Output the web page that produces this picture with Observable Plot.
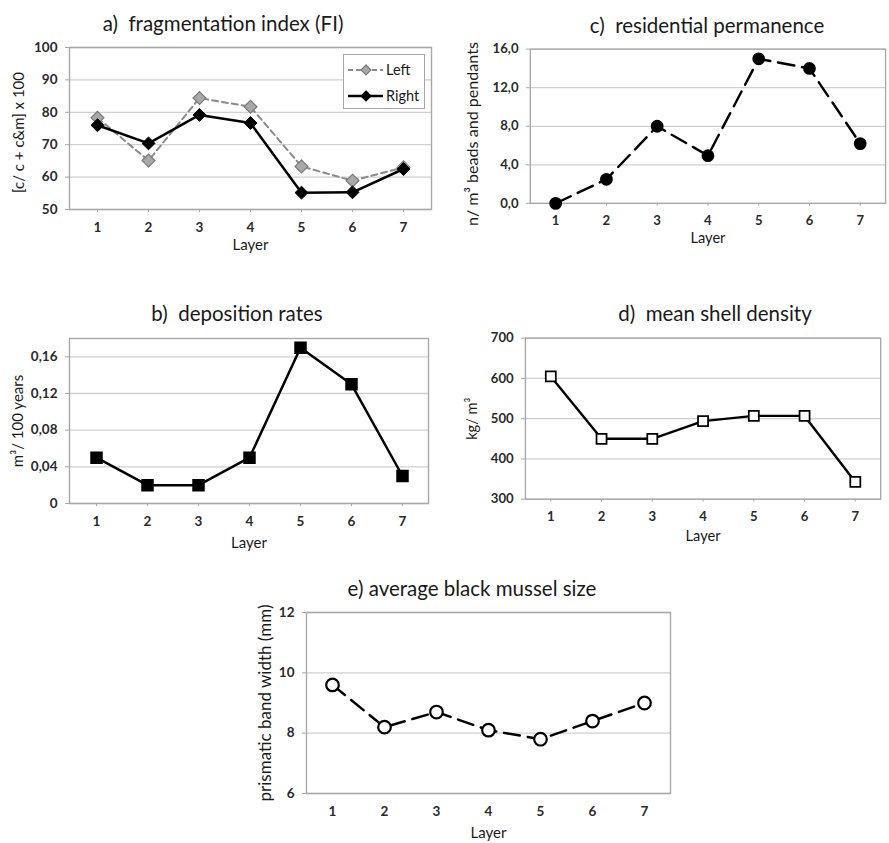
<!DOCTYPE html>
<html><head><meta charset="utf-8">
<script src="https://cdn.jsdelivr.net/npm/d3@7"></script>
<script src="https://cdn.jsdelivr.net/npm/@observablehq/plot@0.6"></script>
<style>
html,body{margin:0;padding:0;background:#fff;overflow:hidden;}
#root{position:relative;width:889px;height:843px;overflow:hidden;font-family:Lato,"Open Sans",sans-serif;}
.title{position:absolute;white-space:pre;font-size:20.5px;color:#1a1a1a;transform:translate(-50%,-50%);line-height:1;}
.panel{position:absolute;}
.panel svg g[aria-label$="tick label"], .panel svg g[aria-label$="tick label"] text{font-weight:700;font-size:13.5px;}
.legend{position:absolute;background:#fff;border:1px solid #a6a6a6;box-sizing:border-box;}
.legend .row{position:absolute;left:3px;display:flex;align-items:center;font-size:14.5px;color:#1a1a1a;}
</style></head><body><div id="root"></div>
<script>
// ---- data ----
const layers = [1, 2, 3, 4, 5, 6, 7];
const fiLeft = [78.3, 65.1, 84.4, 81.7, 63.3, 58.9, 63.0];
const fiRight = [76.0, 70.4, 79.2, 76.7, 55.2, 55.3, 62.5];
const fiTicks = [50, 60, 70, 80, 90, 100];
const depositionRates = [0.05, 0.02, 0.02, 0.05, 0.17, 0.13, 0.03];
const depTicks = [0, 0.04, 0.08, 0.12, 0.16];
const residential = [0, 2.5, 8.0, 4.95, 15.0, 14.0, 6.2];
const resTicks = [0, 4, 8, 12, 16];
const shellDensity = [605, 450, 450, 494, 507, 507, 343];
const densTicks = [300, 400, 500, 600, 700];
const musselSize = [9.6, 8.2, 8.7, 8.1, 7.8, 8.4, 9.0];
const musselTicks = [6, 8, 10, 12];

const root = document.getElementById("root");
const FONT = "Lato, 'Open Sans', sans-serif";

function addTitle(text, cx, cy) {
  const d = document.createElement("div");
  d.className = "title";
  d.textContent = text;
  d.style.left = cx + "px";
  d.style.top = cy + "px";
  root.appendChild(d);
}

function panel(o) {
  const xts = o.xTickSize ?? 3;
  const svg = Plot.plot({
    width: o.width, height: o.height,
    marginLeft: o.mL, marginRight: o.mR, marginTop: o.mT, marginBottom: o.mB,
    style: {fontFamily: FONT, fontSize: "13.5px", background: "transparent", color: "#222"},
    x: {type: "point", domain: layers, padding: 0.5},
    y: {domain: o.yDomain},
    marks: [
      Plot.gridY(o.yTicks, {stroke: "#d0d0d0", strokeOpacity: 1, strokeWidth: 1.3}),
      Plot.frame({stroke: "#a8a8a8", strokeWidth: 1.4}),
      Plot.axisX(layers, {tickSize: xts, tickPadding: 10 + (3 - xts), stroke: "#a8a8a8", fill: "#2a2a2a", fontWeight: "bold", fontSize: 13.5, label: null}),
      Plot.axisY(o.yTicks, {tickSize: 4, tickPadding: 8, stroke: "#a8a8a8", fill: "#2a2a2a", fontWeight: "bold", fontSize: 13.5, tickFormat: o.yFormat, label: null}),
      Plot.text([o.yLabel], {text: d => d, frameAnchor: "left", textAnchor: "middle", rotate: -90, dx: o.yLabelDx, dy: o.yLabelDy ?? 0, fontSize: o.yLabelSize ?? 15, fill: "#1a1a1a"}),
      Plot.text(["Layer"], {text: d => d, frameAnchor: "bottom", textAnchor: "middle", dy: o.xLabelDy, fontSize: 15, fill: "#1a1a1a"}),
      ...o.marks
    ]
  });
  const wrap = document.createElement("div");
  wrap.className = "panel";
  wrap.style.left = o.left + "px";
  wrap.style.top = o.top + "px";
  wrap.appendChild(svg);
  root.appendChild(wrap);
}

const comma = (k) => (d) => d === 0 && k === 2 ? "0" : d.toFixed(k).replace(".", ",");

// a) fragmentation index
const fiData = layers.map((l, i) => ({layer: l, left: fiLeft[i], right: fiRight[i]}));
addTitle("a)  fragmentation index (FI)", 223, 23);
panel({
  left: 0, top: 35, width: 440, height: 235, mL: 69, mR: 9, mT: 12, mB: 61,
  yDomain: [50, 100], yTicks: fiTicks, yFormat: d => String(d),
  yLabel: "[c/ c + c&m] x 100", yLabelDx: -50, yLabelDy: 4, xLabelDy: 40,
  marks: [
    Plot.line(fiData, {x: "layer", y: "left", stroke: "#8a8a8a", strokeWidth: 2, strokeDasharray: "6,4"}),
    Plot.dot(fiData, {x: "layer", y: "left", symbol: "diamond2", r: 5.8, fill: "#a8a8a8", stroke: "#7a7a7a", strokeWidth: 1.2}),
    Plot.line(fiData, {x: "layer", y: "right", stroke: "#000", strokeWidth: 2.5}),
    Plot.dot(fiData, {x: "layer", y: "right", symbol: "diamond2", r: 5.8, fill: "#000", stroke: "#000", strokeWidth: 1})
  ]
});
// legend for a)
(function () {
  const lg = document.createElement("div");
  lg.className = "legend";
  lg.style.left = "343px"; lg.style.top = "54px"; lg.style.width = "82px"; lg.style.height = "55px";
  const rows = [
    {name: "Left", stroke: "#8a8a8a", dash: "5,3", fill: "#a8a8a8", mstroke: "#7a7a7a", w: 2, top: 6},
    {name: "Right", stroke: "#000", dash: null, fill: "#000", mstroke: "#000", w: 2.5, top: 32}
  ];
  for (const r of rows) {
    const row = document.createElement("div");
    row.className = "row";
    row.style.top = r.top + "px";
    row.innerHTML = `<svg width="37" height="16" style="margin-right:2px"><line x1="1" y1="8" x2="36" y2="8" stroke="${r.stroke}" stroke-width="${r.w}" ${r.dash ? `stroke-dasharray="${r.dash}"` : ""}/><polygon points="19,3 24,8 19,13 14,8" fill="${r.fill}" stroke="${r.mstroke}" stroke-width="1.2"/></svg><span>${r.name}</span>`;
    lg.appendChild(row);
  }
  root.appendChild(lg);
})();

// c) residential permanence
const resData = layers.map((l, i) => ({layer: l, value: residential[i]}));
addTitle("c)  residential permanence", 707, 25);
panel({
  left: 440, top: 35, width: 460, height: 235, mL: 92, mR: 4, mT: 14, mB: 63,
  yDomain: [0, 16], yTicks: resTicks, yFormat: comma(1),
  yLabel: "n/ m³ beads and pendants", yLabelDx: -59, yLabelDy: 8, yLabelSize: 16.5, xLabelDy: 41,
  marks: [
    Plot.line(resData, {x: "layer", y: "value", stroke: "#000", strokeWidth: 2.5, strokeDasharray: "17,8"}),
    Plot.dot(resData, {x: "layer", y: "value", r: 5.8, fill: "#000", stroke: "#000"})
  ]
});

// b) deposition rates
const depData = layers.map((l, i) => ({layer: l, value: depositionRates[i]}));
addTitle("b)  deposition rates", 237, 313);
panel({
  left: 0, top: 325, width: 440, height: 240, mL: 69, mR: 12, mT: 13, mB: 62,
  yDomain: [0, 0.18], yTicks: depTicks, yFormat: comma(2),
  yLabel: "m³/ 100 years", yLabelDx: -51, xLabelDy: 44,
  marks: [
    Plot.line(depData, {x: "layer", y: "value", stroke: "#000", strokeWidth: 2.5}),
    Plot.dot(depData, {x: "layer", y: "value", symbol: "square", r: 6.2, fill: "#000", stroke: "#000"})
  ]
});

// d) mean shell density
const densData = layers.map((l, i) => ({layer: l, value: shellDensity[i]}));
addTitle("d)  mean shell density", 715, 313);
panel({
  left: 440, top: 325, width: 460, height: 240, mL: 87, mR: 9, mT: 13, mB: 62,
  yDomain: [300, 700], yTicks: densTicks, yFormat: d => String(d),
  yLabel: "kg/ m³", yLabelDx: -54, xLabelDy: 43,
  marks: [
    Plot.line(densData, {x: "layer", y: "value", stroke: "#000", strokeWidth: 2.5}),
    Plot.dot(densData, {x: "layer", y: "value", symbol: "square", r: 5.8, fill: "#fff", stroke: "#000", strokeWidth: 1.8})
  ]
});

// e) average black mussel size
const musData = layers.map((l, i) => ({layer: l, value: musselSize[i]}));
addTitle("e) average black mussel size", 472, 588);
panel({
  left: 220, top: 600, width: 460, height: 243, mL: 86, mR: 10, mT: 12, mB: 50,
  yDomain: [6, 12], yTicks: musselTicks, yFormat: d => String(d),
  yLabel: "prismatic band width (mm)", yLabelDx: -41, yLabelSize: 17, xLabelDy: 44, xTickSize: 0,
  marks: [
    Plot.line(musData, {x: "layer", y: "value", stroke: "#000", strokeWidth: 2.5, strokeDasharray: "16,8"}),
    Plot.dot(musData, {x: "layer", y: "value", r: 6.3, fill: "#fff", stroke: "#000", strokeWidth: 2.2})
  ]
});
</script></body></html>
